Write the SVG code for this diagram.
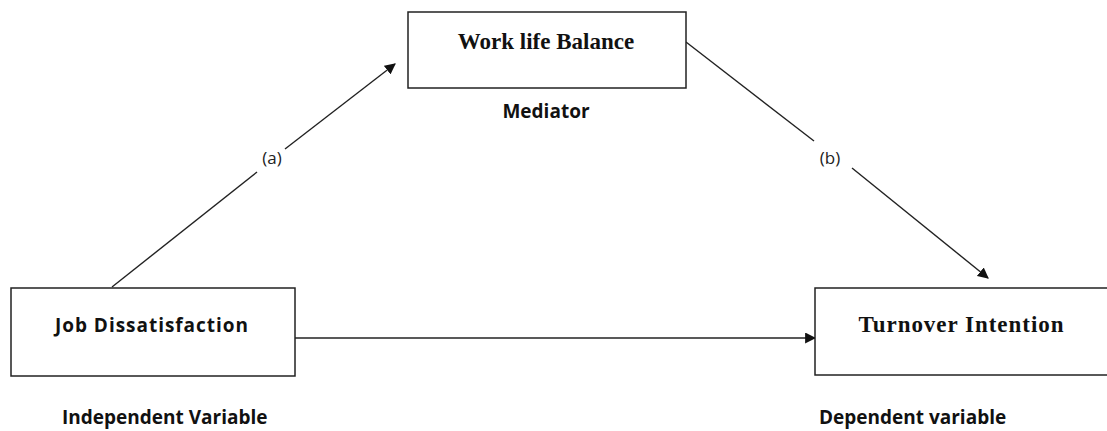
<svg xmlns="http://www.w3.org/2000/svg" width="1107" height="431" viewBox="0 0 1107 431">
<style>
.box{fill:#fff;stroke:#222;stroke-width:1.5}
.serif{font-family:"Liberation Serif","Times New Roman",serif;font-weight:bold;font-size:23px;fill:#111;text-anchor:middle}
.sans{font-family:"Open Sans","Liberation Sans",sans-serif;font-weight:bold;font-size:19px;fill:#111}
.lbl{font-family:"Open Sans","Liberation Sans",sans-serif;font-size:17px;fill:#222;text-anchor:middle}
.conn{stroke:#222;stroke-width:1.4;fill:none}
</style>
<defs>
<marker id="arr" viewBox="0 0 10 10" refX="9" refY="5" markerWidth="11" markerHeight="11" markerUnits="userSpaceOnUse" orient="auto">
<path d="M0,0 L10,5 L0,10 z" fill="#111"/>
</marker>
</defs>
<rect width="1107" height="431" fill="#fff"/>
<g id="connectors">
<line class="conn" x1="112" y1="287" x2="257" y2="172"/>
<line class="conn" x1="285" y1="149" x2="395" y2="64" marker-end="url(#arr)"/>
<text class="lbl" x="272" y="164">(a)</text>
<line class="conn" x1="686" y1="42" x2="814" y2="141"/>
<line class="conn" x1="852" y1="168" x2="988" y2="278" marker-end="url(#arr)"/>
<text class="lbl" x="830" y="164">(b)</text>
<line class="conn" x1="295" y1="338" x2="815" y2="338" marker-end="url(#arr)"/>
</g>
<g id="mediator">
<rect class="box" x="408" y="12" width="278" height="76"/>
<text class="serif" x="546" y="49">Work life Balance</text>
<text class="sans" x="546" y="118" text-anchor="middle">Mediator</text>
</g>
<g id="independent">
<rect class="box" x="11" y="288" width="284" height="88"/>
<text class="sans" x="55" y="332" font-size="21" textLength="193" lengthAdjust="spacing">Job Dissatisfaction</text>
<text class="sans" x="62" y="424">Independent Variable</text>
</g>
<g id="dependent">
<rect class="box" x="815" y="288" width="300" height="87"/>
<text class="serif" x="961" y="332" font-size="24.5" textLength="205" lengthAdjust="spacing">Turnover Intention</text>
<text class="sans" x="819" y="424">Dependent variable</text>
</g>
</svg>
